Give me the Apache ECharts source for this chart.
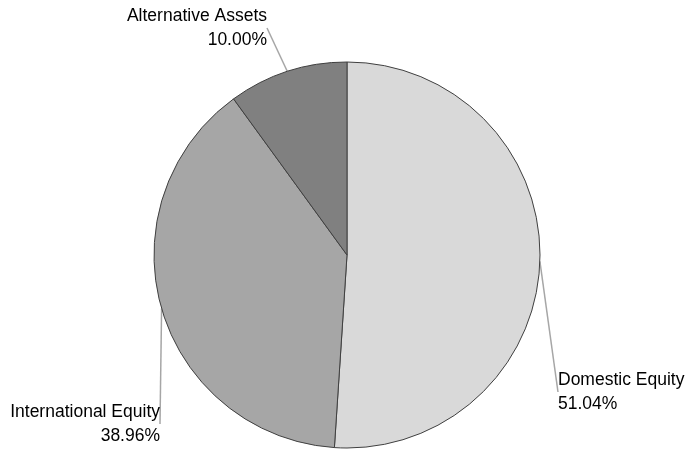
<!DOCTYPE html>
<html>
<head>
<meta charset="utf-8">
<script src="https://cdn.jsdelivr.net/npm/echarts@6/dist/echarts.min.js"></script>
<style>
html,body{margin:0;padding:0;background:#fff;}
#chart{width:686px;height:451px;}
</style>
</head>
<body>
<div id="chart"></div>
<script>
var categories = ['Domestic Equity', 'International Equity', 'Alternative Assets'];
var values = [51.04, 38.96, 10.00];
var colors = ['#d9d9d9', '#a6a6a6', '#808080'];

var labelPos = {
  'Domestic Equity': {x: 558, y: 368, align: 'left'},
  'International Equity': {x: 160, y: 400, align: 'right'},
  'Alternative Assets': {x: 267, y: 4, align: 'right'}
};

var chart = echarts.init(document.getElementById('chart'), null, {renderer: 'canvas'});
chart.setOption({
  animation: false,
  backgroundColor: '#ffffff',
  series: [{
    type: 'pie',
    center: [347, 255],
    radius: 193,
    startAngle: 90,
    clockwise: true,
    avoidLabelOverlap: false,
    itemStyle: {borderColor: '#404040', borderWidth: 1},
    label: {
      show: true,
      fontFamily: 'Liberation Sans',
      fontSize: 17.5,
      lineHeight: 24,
      color: '#000',
      formatter: function (p) { return p.name + '\n' + p.value.toFixed(2) + '%'; }
    },
    labelLine: {
      show: true,
      length: 10,
      length2: 0,
      lineStyle: {color: '#a6a6a6', width: 1.5}
    },
    emphasis: {disabled: true},
    labelLayout: function (params) {
      var name = categories[params.dataIndex];
      var p = labelPos[name];
      return {x: p.x, y: p.y, align: p.align, verticalAlign: 'top'};
    },
    data: categories.map(function (c, i) {
      return {name: c, value: values[i], itemStyle: {color: colors[i]}, label: {align: labelPos[c].align}};
    })
  }]
});
</script>
</body>
</html>
